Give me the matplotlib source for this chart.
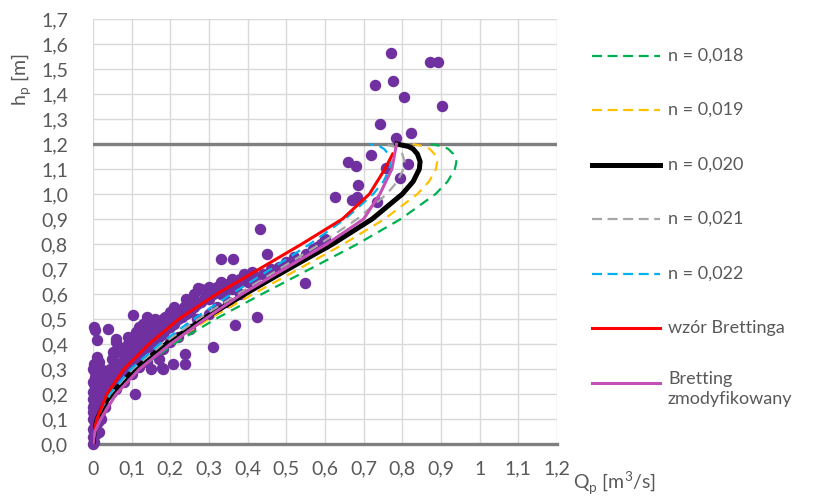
import matplotlib
matplotlib.use("Agg")
import matplotlib.pyplot as plt
from matplotlib.lines import Line2D

plt.rcParams['font.family'] = ['Lato', 'DejaVu Sans']

# measured points (Q [m3/s], h [m])
pts_q = [0.0, 0.002, 0.001, 0.003, 0.0, 0.005, 0.002, 0.006, 0.001, 0.008, 0.003, 0.01, 0.004, 0.012,
         0.0, 0.007, 0.015, 0.002, 0.01, 0.02, 0.005, 0.018, 0.025, 0.008, 0.003, 0.012, 0.03, 0.028,
         0.02, 0.015, 0.01, 0.006, 0.004, 0.008, 0.0, 0.0, 0.004,
         0.015, 0.012, 0.018, 0.02, 0.025, 0.03, 0.035, 0.022, 0.015, 0.035, 0.04, 0.045, 0.01,
         0.005, 0.0, 0.0, 0.0, 0.02, 0.03,
         0.005, 0.002, 0.01, 0.04, 0.005,
         0.035, 0.04, 0.05, 0.045, 0.06, 0.055, 0.07, 0.065, 0.08, 0.075, 0.09, 0.085, 0.1, 0.095,
         0.11, 0.105, 0.12, 0.115, 0.13, 0.125, 0.14, 0.135, 0.15, 0.145, 0.16, 0.155, 0.17, 0.165,
         0.18, 0.175, 0.19, 0.2, 0.195, 0.21, 0.22, 0.215, 0.23, 0.24, 0.235, 0.25, 0.26, 0.255,
         0.27, 0.28, 0.29, 0.3, 0.31, 0.32, 0.33, 0.34, 0.35, 0.36, 0.37, 0.38, 0.39, 0.4, 0.41,
         0.05, 0.07, 0.06, 0.09, 0.11, 0.1, 0.13, 0.16, 0.14, 0.12, 0.08, 0.06, 0.2, 0.21, 0.24,
         0.26, 0.28, 0.3, 0.33, 0.36, 0.39, 0.41,
         0.06, 0.08, 0.1, 0.12, 0.14, 0.16, 0.18, 0.2, 0.22, 0.25, 0.27, 0.3, 0.32, 0.35, 0.38,
         0.15, 0.17,
         0.06, 0.083, 0.057, 0.104, 0.109, 0.156, 0.186, 0.165, 0.182, 0.208, 0.238, 0.238, 0.229,
         0.272, 0.311, 0.367, 0.423, 0.33, 0.363, 0.449, 0.432, 0.548, 0.052, 0.12, 0.052, 0.194,
         0.08, 0.1, 0.12, 0.14, 0.17, 0.2, 0.06, 0.09, 0.13, 0.15, 0.18, 0.178,
         0.32, 0.35, 0.38, 0.34, 0.37, 0.42, 0.44, 0.46, 0.48, 0.5, 0.52, 0.55, 0.57, 0.59, 0.6,
         0.58, 0.6,
         0.626, 0.669, 0.684, 0.734, 0.686, 0.794, 0.815, 0.66, 0.68, 0.758, 0.72, 0.783, 0.822,
         0.742, 0.805, 0.902, 0.729, 0.777, 0.772, 0.872, 0.893]
pts_h = [0.0, 0.01, 0.03, 0.05, 0.06, 0.08, 0.1, 0.11, 0.13, 0.14, 0.16, 0.17, 0.19, 0.2,
         0.21, 0.22, 0.23, 0.24, 0.25, 0.25, 0.27, 0.28, 0.29, 0.3, 0.32, 0.31, 0.27, 0.24,
         0.2, 0.17, 0.12, 0.15, 0.07, 0.04, 0.15, 0.25, 0.29,
         0.05, 0.09, 0.13, 0.16, 0.19, 0.21, 0.23, 0.3, 0.33, 0.26, 0.28, 0.3, 0.35,
         0.2, 0.1, 0.18, 0.3, 0.1, 0.15,
         0.456, 0.47, 0.416, 0.459, 0.316,
         0.2, 0.23, 0.21, 0.26, 0.24, 0.28, 0.27, 0.31, 0.29, 0.33, 0.31, 0.35, 0.33, 0.37,
         0.34, 0.38, 0.36, 0.4, 0.37, 0.41, 0.39, 0.43, 0.4, 0.44, 0.42, 0.45, 0.43, 0.47,
         0.44, 0.48, 0.46, 0.47, 0.5, 0.48, 0.5, 0.52, 0.51, 0.52, 0.55, 0.53, 0.55, 0.57,
         0.56, 0.57, 0.59, 0.58, 0.6, 0.61, 0.6, 0.62, 0.63, 0.62, 0.64, 0.65, 0.66, 0.65, 0.67,
         0.34, 0.38, 0.42, 0.43, 0.45, 0.41, 0.48, 0.5, 0.51, 0.47, 0.33, 0.3, 0.53, 0.55, 0.58,
         0.6, 0.62, 0.63, 0.65, 0.66, 0.68, 0.69,
         0.22, 0.25, 0.28, 0.31, 0.33, 0.36, 0.38, 0.41, 0.43, 0.46, 0.5, 0.52, 0.55, 0.57, 0.6,
         0.3, 0.34,
         0.409, 0.389, 0.364, 0.516, 0.2, 0.483, 0.509, 0.432, 0.3, 0.32, 0.32, 0.36, 0.536,
         0.623, 0.389, 0.476, 0.509, 0.739, 0.739, 0.76, 0.86, 0.645, 0.264, 0.409, 0.37, 0.509,
         0.36, 0.38, 0.42, 0.44, 0.46, 0.5, 0.32, 0.4, 0.45, 0.48, 0.5, 0.303,
         0.63, 0.64, 0.66, 0.6, 0.62, 0.66, 0.68, 0.7, 0.71, 0.73, 0.75, 0.76, 0.78, 0.8, 0.8,
         0.79, 0.82,
         0.989, 0.976, 0.989, 0.969, 1.036, 1.063, 1.119, 1.128, 1.113, 1.103, 1.155, 1.223, 1.245,
         1.28, 1.389, 1.352, 1.436, 1.452, 1.565, 1.53, 1.53]

# curves
h_curve = [0, 0.05, 0.1, 0.15, 0.2, 0.3, 0.4, 0.5, 0.6, 0.7, 0.8, 0.9, 1.0, 1.05, 1.1, 1.13, 1.16, 1.18, 1.19, 1.2]
q_018 = [0, 0.003, 0.012, 0.029, 0.053, 0.120, 0.209, 0.317, 0.437, 0.561, 0.684, 0.796, 0.886, 0.917, 0.936, 0.940, 0.932, 0.919, 0.906, 0.873]
q_019 = [0, 0.003, 0.012, 0.028, 0.050, 0.113, 0.198, 0.300, 0.414, 0.532, 0.648, 0.754, 0.839, 0.869, 0.887, 0.890, 0.883, 0.871, 0.858, 0.827]
q_020 = [0, 0.003, 0.011, 0.026, 0.047, 0.108, 0.189, 0.285, 0.393, 0.505, 0.620, 0.722, 0.800, 0.828, 0.844, 0.846, 0.839, 0.828, 0.816, 0.786]
q_021 = [0, 0.002, 0.011, 0.025, 0.045, 0.103, 0.180, 0.272, 0.375, 0.482, 0.587, 0.683, 0.760, 0.787, 0.803, 0.806, 0.800, 0.789, 0.777, 0.749]
q_022 = [0, 0.002, 0.010, 0.024, 0.043, 0.098, 0.172, 0.260, 0.358, 0.460, 0.561, 0.652, 0.725, 0.751, 0.767, 0.770, 0.764, 0.753, 0.742, 0.715]

h_bret = [0, 0.05, 0.1, 0.2, 0.3, 0.4, 0.5, 0.6, 0.7, 0.8, 0.9, 1.0, 1.1, 1.16]
q_bret = [0, 0.003, 0.01, 0.036, 0.08, 0.145, 0.222, 0.32, 0.43, 0.54, 0.645, 0.715, 0.755, 0.775]
h_mod = [0, 0.05, 0.1, 0.2, 0.3, 0.4, 0.5, 0.6, 0.7, 0.8, 0.9, 1.0, 1.1, 1.2]
q_mod = [0, 0.005, 0.02, 0.06, 0.12, 0.2, 0.29, 0.385, 0.495, 0.605, 0.70, 0.742, 0.773, 0.785]

x_ticks = [0, 0.1, 0.2, 0.3, 0.4, 0.5, 0.6, 0.7, 0.8, 0.9, 1.0, 1.1, 1.2]
x_labels = ['0', '0,1', '0,2', '0,3', '0,4', '0,5', '0,6', '0,7', '0,8', '0,9', '1', '1,1', '1,2']
y_ticks = [i / 10 for i in range(18)]
y_labels = ['%d,%d' % (i // 10, i % 10) for i in range(18)]

series = [
    (q_018, h_curve, '#00b050', '--', 1.6, 'n = 0,018'),
    (q_019, h_curve, '#ffc000', '--', 1.6, 'n = 0,019'),
    (q_020, h_curve, 'black', '-', 3.6, 'n = 0,020'),
    (q_021, h_curve, '#a6a6a6', '--', 1.6, 'n = 0,021'),
    (q_022, h_curve, '#00b0f0', '--', 1.6, 'n = 0,022'),
    (q_bret, h_bret, '#ff0000', '-', 2.2, 'wzór Brettinga'),
    (q_mod, h_mod, '#c550b5', '-', 2.2, 'Bretting\nzmodyfikowany'),
]

txt = '#595959'
fig = plt.figure(figsize=(8.28, 4.99), dpi=100)
ax = fig.add_axes([0.1123, 0.1102, 0.5604, 0.8517])

ax.scatter(pts_q, pts_h, s=68, color='#7030a0', zorder=2, clip_on=False, linewidths=0)
for q, h, c, ls, lw, lab in series:
    ax.plot(q, h, color=c, ls=ls, lw=lw, zorder=3, dashes=(4.5, 3) if ls == '--' else (None, None))

ax.axhline(1.2, color='#7f7f7f', lw=2.4, zorder=1)
ax.axhline(0.0, color='#7f7f7f', lw=2.4, zorder=1, clip_on=False)

ax.set_xlim(0, 1.2)
ax.set_ylim(0, 1.7)
ax.set_xticks(x_ticks)
ax.set_xticklabels(x_labels)
ax.set_yticks(y_ticks)
ax.set_yticklabels(y_labels)
ax.grid(True, color='#d9d9d9', lw=1)
ax.set_axisbelow(True)
for s in ax.spines.values():
    s.set_visible(False)
ax.tick_params(length=0, labelsize=14, colors=txt)
ax.tick_params(axis='x', pad=12)
ax.tick_params(axis='y', pad=18)

fig.text(0.027, 0.84, 'h$_\\mathregular{p}$ [m]', rotation=90, fontsize=14, color=txt, ha='center', va='center')
fig.text(573 / 828, 0.004, 'Q$_\\mathregular{p}$ [m$^\\mathregular{3}$/s]', fontsize=14, color=txt,
         ha='left', va='bottom')

# legend drawn by hand
leg_y = [56, 110, 165, 219, 274, 328, 383]
for (q, h, c, ls, lw, lab), yp in zip(series, leg_y):
    yf = 1 - yp / 499
    fig.add_artist(Line2D([592 / 828, 660 / 828], [yf, yf], color=c, ls=ls, lw=lw,
                          dashes=(4.5, 2.5) if ls == '--' else (None, None)))
    if '\n' in lab:
        fig.text(668 / 828, yf + 12 / 499, lab, fontsize=13, color=txt, va='top', linespacing=1.3)
    else:
        fig.text(668 / 828, yf, lab, fontsize=13, color=txt, va='center')

fig.savefig('out.png', dpi=100)
